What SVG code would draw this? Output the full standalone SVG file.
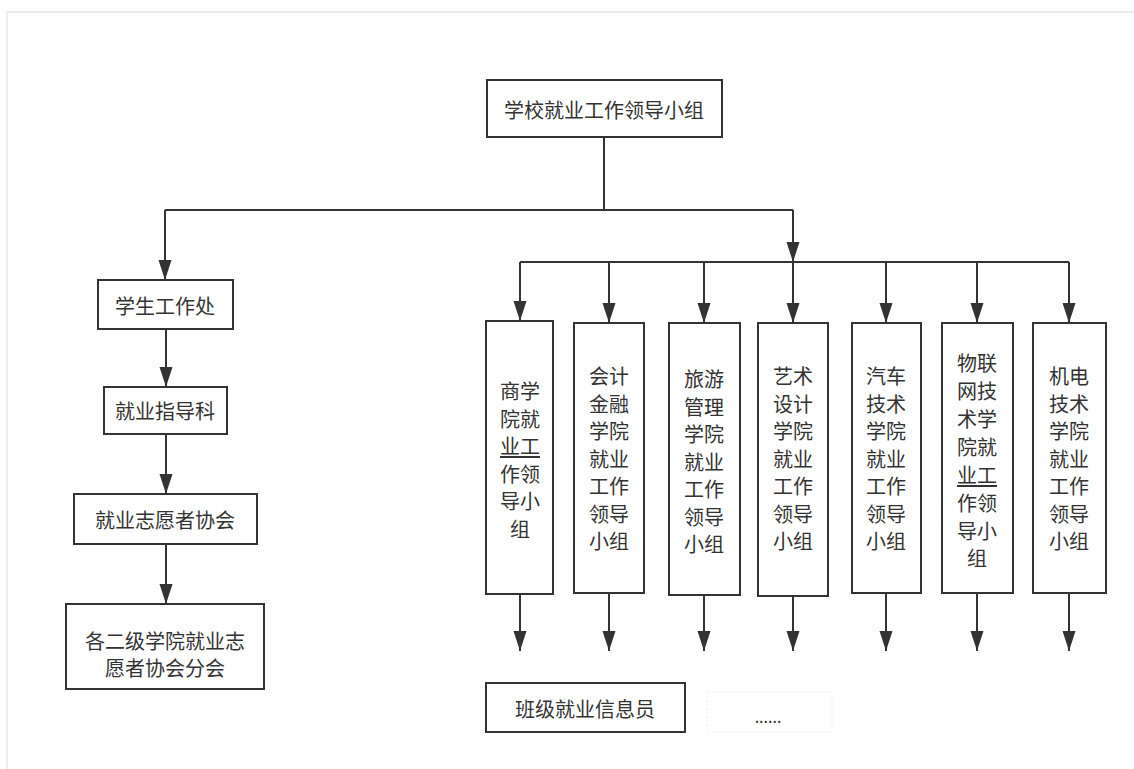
<svg xmlns="http://www.w3.org/2000/svg" width="1134" height="769" viewBox="0 0 1134 769">
<defs>
<style>
.box{fill:#fff;stroke:#333;stroke-width:2}
.t{font-family:"Noto Sans CJK SC","Noto Sans",sans-serif;font-size:20px;fill:#333;text-anchor:middle;dominant-baseline:central}
.c{fill:none;stroke:#333;stroke-width:2}
.a{fill:none;stroke:#333;stroke-width:2;marker-end:url(#arr)}
</style>
<marker id="arr" markerUnits="userSpaceOnUse" markerWidth="20" markerHeight="14" refX="20" refY="7" orient="auto">
<path d="M0,0.5 L20,7 L0,13.5 z" fill="#333"/>
</marker>
</defs>
<rect width="1134" height="769" fill="#fff"/>
<path d="M7,769 V12 H1134" fill="none" stroke="#ececec" stroke-width="2"/>

<g id="connectors">
<path class="c" d="M604,137 V210"/>
<path class="c" d="M165,210 H793"/>
<path class="a" d="M165,210 V280"/>
<path class="a" d="M793,210 V262"/>
<path class="c" d="M520,262 H1069"/>
<path class="a" d="M520,262 V321"/>
<path class="a" d="M609,262 V323"/>
<path class="a" d="M704,262 V323"/>
<path class="a" d="M793,262 V323"/>
<path class="a" d="M886,262 V323"/>
<path class="a" d="M977,262 V323"/>
<path class="a" d="M1069,262 V323"/>
<path class="a" d="M166,329 V387"/>
<path class="a" d="M166,434 V494"/>
<path class="a" d="M166,544 V604"/>
<path class="a" d="M520,594 V651"/>
<path class="a" d="M609,593 V651"/>
<path class="a" d="M704,595 V651"/>
<path class="a" d="M793,596 V651"/>
<path class="a" d="M886,593 V651"/>
<path class="a" d="M977,593 V651"/>
<path class="a" d="M1069,593 V651"/>
</g>

<g id="n-top">
<rect class="box" x="487" y="80" width="235" height="57"/>
<text class="t" x="604" y="109">学校就业工作领导小组</text>
</g>

<g id="n-xsgzc">
<rect class="box" x="98" y="280" width="135" height="49"/>
<text class="t" x="165" y="305">学生工作处</text>
</g>
<g id="n-jyzdk">
<rect class="box" x="104" y="387" width="123" height="47"/>
<text class="t" x="165" y="410">就业指导科</text>
</g>
<g id="n-jyzyzxh">
<rect class="box" x="74" y="494" width="183" height="50"/>
<text class="t" x="165" y="519">就业志愿者协会</text>
</g>
<g id="n-fenhui">
<rect class="box" x="66" y="604" width="198" height="85"/>
<text class="t" x="165" y="640">各二级学院就业志</text>
<text class="t" x="165" y="667">愿者协会分会</text>
</g>

<g id="n-sxy">
<rect class="box" x="486" y="321" width="67" height="273"/>
<text class="t" x="520"><tspan x="520" y="390">商学</tspan><tspan x="520" y="417.5">院就</tspan><tspan x="520" y="445" text-decoration="underline">业工</tspan><tspan x="520" y="472.5">作领</tspan><tspan x="520" y="500">导小</tspan><tspan x="520" y="527.5">组</tspan></text>
</g>
<g id="n-kjjr">
<rect class="box" x="574" y="323" width="70" height="270"/>
<text class="t" x="609"><tspan x="609" y="375">会计</tspan><tspan x="609" y="402.5">金融</tspan><tspan x="609" y="430">学院</tspan><tspan x="609" y="457.5">就业</tspan><tspan x="609" y="485">工作</tspan><tspan x="609" y="512.5">领导</tspan><tspan x="609" y="540">小组</tspan></text>
</g>
<g id="n-lygl">
<rect class="box" x="669" y="323" width="71" height="272"/>
<text class="t" x="704"><tspan x="704" y="378">旅游</tspan><tspan x="704" y="405.5">管理</tspan><tspan x="704" y="433">学院</tspan><tspan x="704" y="460.5">就业</tspan><tspan x="704" y="488">工作</tspan><tspan x="704" y="515.5">领导</tspan><tspan x="704" y="543">小组</tspan></text>
</g>
<g id="n-ysj">
<rect class="box" x="758" y="323" width="70" height="273"/>
<text class="t" x="793"><tspan x="793" y="375">艺术</tspan><tspan x="793" y="402.5">设计</tspan><tspan x="793" y="430">学院</tspan><tspan x="793" y="457.5">就业</tspan><tspan x="793" y="485">工作</tspan><tspan x="793" y="512.5">领导</tspan><tspan x="793" y="540">小组</tspan></text>
</g>
<g id="n-qcjs">
<rect class="box" x="852" y="323" width="69" height="270"/>
<text class="t" x="886"><tspan x="886" y="375">汽车</tspan><tspan x="886" y="402.5">技术</tspan><tspan x="886" y="430">学院</tspan><tspan x="886" y="457.5">就业</tspan><tspan x="886" y="485">工作</tspan><tspan x="886" y="512.5">领导</tspan><tspan x="886" y="540">小组</tspan></text>
</g>
<g id="n-wlw">
<rect class="box" x="942" y="323" width="71" height="270"/>
<text class="t" x="977"><tspan x="977" y="362">物联</tspan><tspan x="977" y="390">网技</tspan><tspan x="977" y="418">术学</tspan><tspan x="977" y="446">院就</tspan><tspan x="977" y="474" text-decoration="underline">业工</tspan><tspan x="977" y="502">作领</tspan><tspan x="977" y="530">导小</tspan><tspan x="977" y="557">组</tspan></text>
</g>
<g id="n-jdjs">
<rect class="box" x="1033" y="323" width="73" height="270"/>
<text class="t" x="1069"><tspan x="1069" y="375">机电</tspan><tspan x="1069" y="402.5">技术</tspan><tspan x="1069" y="430">学院</tspan><tspan x="1069" y="457.5">就业</tspan><tspan x="1069" y="485">工作</tspan><tspan x="1069" y="512.5">领导</tspan><tspan x="1069" y="540">小组</tspan></text>
</g>

<g id="n-bjxxy">
<rect class="box" x="486" y="683" width="199" height="49"/>
<text class="t" x="585" y="708">班级就业信息员</text>
</g>
<g id="n-etc">
<rect x="707" y="692" width="125" height="40" fill="#fff" stroke="#eeeeee" stroke-width="1" stroke-dasharray="2,2"/>
<text class="t" x="768" y="716" style="font-size:16px">......</text>
</g>
</svg>
